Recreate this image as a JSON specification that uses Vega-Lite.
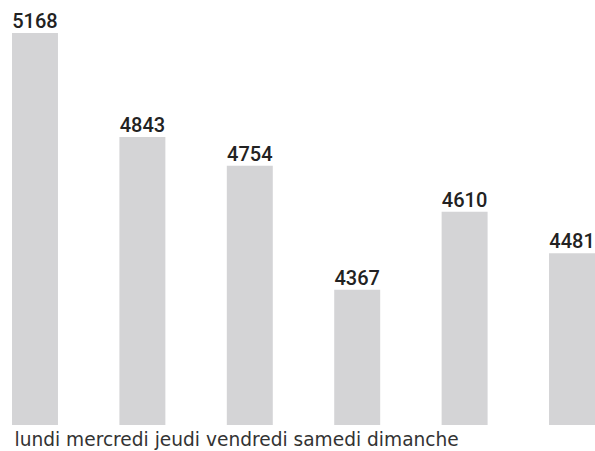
{
  "$schema": "https://vega.github.io/schema/vega-lite/v6.json",
  "autosize": {"type": "none"},
  "width": 583,
  "height": 402,
  "padding": {"left": 12, "top": 23, "right": 0, "bottom": 26},
  "background": "white",
  "config": {"view": {"stroke": null}},
  "data": {
    "values": [
      {"jour": "lundi", "valeur": 5168},
      {"jour": "mercredi", "valeur": 4843},
      {"jour": "jeudi", "valeur": 4754},
      {"jour": "vendredi", "valeur": 4367},
      {"jour": "samedi", "valeur": 4610},
      {"jour": "dimanche", "valeur": 4481}
    ]
  },
  "encoding": {
    "x": {
      "field": "jour",
      "type": "nominal",
      "sort": null,
      "scale": {"paddingInner": 0.572, "paddingOuter": 0},
      "axis": {
        "labels": false,
        "ticks": false,
        "domain": false,
        "title": "lundi mercredi jeudi vendredi samedi dimanche",
        "titleAnchor": "start",
        "titleAlign": "left",
        "titleBaseline": "alphabetic",
        "titleX": 2,
        "titleY": 20,
        "titleFont": "DejaVu Sans",
        "titleFontSize": 18.6,
        "titleFontWeight": "normal",
        "titleColor": "#333333"
      }
    },
    "y": {
      "field": "valeur",
      "type": "quantitative",
      "scale": {"domain": [3945, 5199], "zero": false, "clamp": true},
      "axis": null
    }
  },
  "layer": [
    {"mark": {"type": "bar", "color": "#d4d4d6"}},
    {
      "mark": {
        "type": "text",
        "baseline": "alphabetic",
        "align": "center",
        "dy": -5,
        "font": "Roboto",
        "fontWeight": 500,
        "fontSize": 20,
        "color": "#222222"
      },
      "encoding": {"text": {"field": "valeur", "type": "quantitative", "format": "d"}}
    }
  ]
}
